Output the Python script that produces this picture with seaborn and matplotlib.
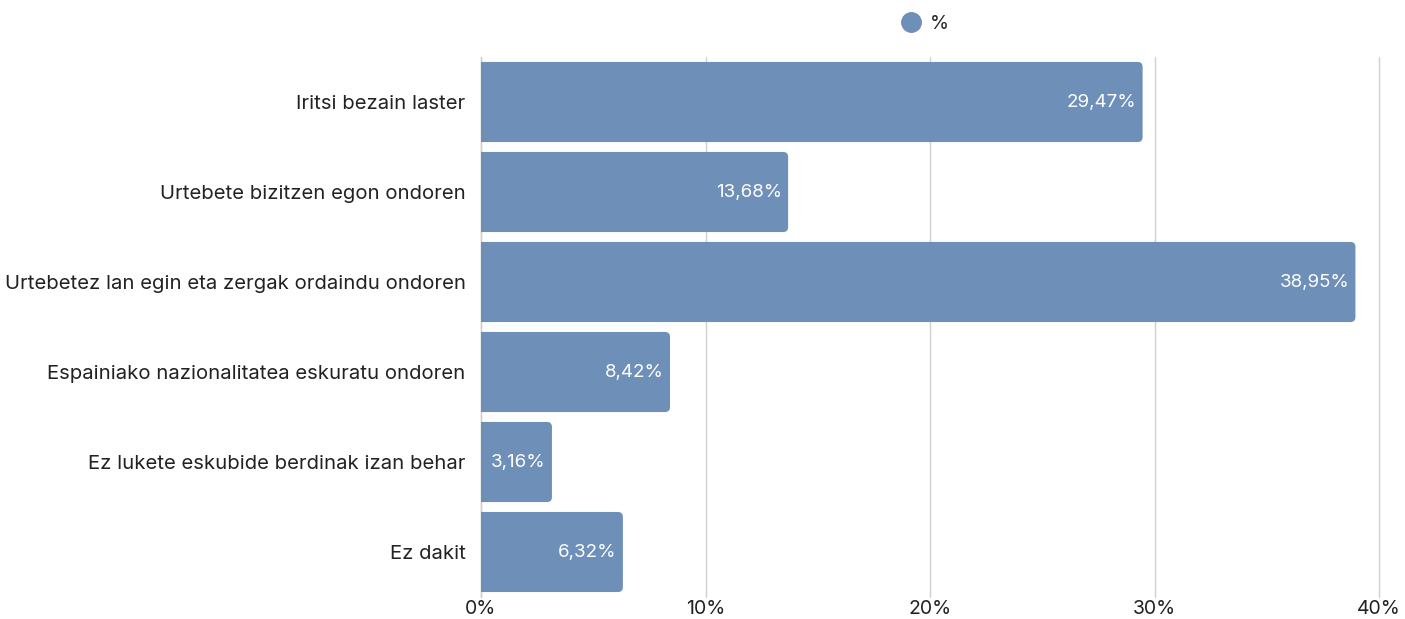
import matplotlib
matplotlib.use("Agg")
import matplotlib.pyplot as plt
from matplotlib.patches import FancyBboxPatch
from matplotlib.lines import Line2D
import seaborn as sns
import pandas as pd

categories = [
    "Iritsi bezain laster",
    "Urtebete bizitzen egon ondoren",
    "Urtebetez lan egin eta zergak ordaindu ondoren",
    "Espainiako nazionalitatea eskuratu ondoren",
    "Ez lukete eskubide berdinak izan behar",
    "Ez dakit",
]
values = [29.47, 13.68, 38.95, 8.42, 3.16, 6.32]
xticks = [0, 10, 20, 30, 40]
series_name = "%"

sns.set_theme(style="white")
plt.rcParams['font.family'] = ['Inter', 'DejaVu Sans']

color = "#6d8fb8"
W, H = 1405, 619
fig = plt.figure(figsize=(W / 100, H / 100), dpi=100)
ax = fig.add_axes([481 / W, 1 - 597 / H, (1379 - 481) / W, (597 - 57) / H])

df = pd.DataFrame({"cat": categories, "val": values})
sns.barplot(data=df, y="cat", x="val", orient="h", color=color, width=0.89,
            saturation=1, ax=ax, zorder=3)

# rounded right corners: replace patches
bars = list(ax.patches)
xpp = 40 / (1379 - 481)
ypp = 6 / (597 - 57)
for p in bars:
    x0, y0, w, h = p.get_x(), p.get_y(), p.get_width(), p.get_height()
    p.remove()
    r = 5 * xpp
    fb = FancyBboxPatch((x0 - 2 * r, y0), w + 2 * r, h,
                        boxstyle=f"round,pad=0,rounding_size={r}",
                        mutation_aspect=ypp / xpp,
                        facecolor=color, edgecolor="none", zorder=3,
                        clip_on=True)
    ax.add_patch(fb)

for i, v in enumerate(values):
    ax.text(v - 0.28, i, f"{v:.2f}%".replace(".", ","), ha="right", va="center",
            color="white", fontsize=13.5, zorder=4)

ax.set_xlim(0, 40)
ax.set_ylim(5.5, -0.5)
ax.set_xticks(xticks)
ax.set_xticklabels([f"{t}%" for t in xticks], fontsize=14, color="#222222")
ax.tick_params(axis="x", length=0, pad=2)
ax.tick_params(axis="y", length=0, pad=11, labelsize=14.6, labelcolor="#222222")
ax.set_xlabel("")
ax.set_ylabel("")
ax.xaxis.grid(True, color="#d0d0d0", linewidth=1, zorder=0)
for gl in ax.get_xgridlines():
    gl.set_clip_on(False)
ax.yaxis.grid(False)
for s in ["top", "right", "bottom"]:
    ax.spines[s].set_visible(False)
ax.spines["left"].set_color("#d0d0d0")
ax.spines["left"].set_linewidth(1)
ax.spines["left"].set_zorder(2)

handle = Line2D([], [], marker="o", linestyle="none", markersize=14,
                markerfacecolor=color, markeredgecolor=color)
fig.legend([handle], [series_name], loc="center", bbox_to_anchor=(925 / W, 1 - 24 / H),
           frameon=False, fontsize=14, handletextpad=0.5, handlelength=1.0)

fig.savefig("out.png", dpi=100, facecolor="white")
